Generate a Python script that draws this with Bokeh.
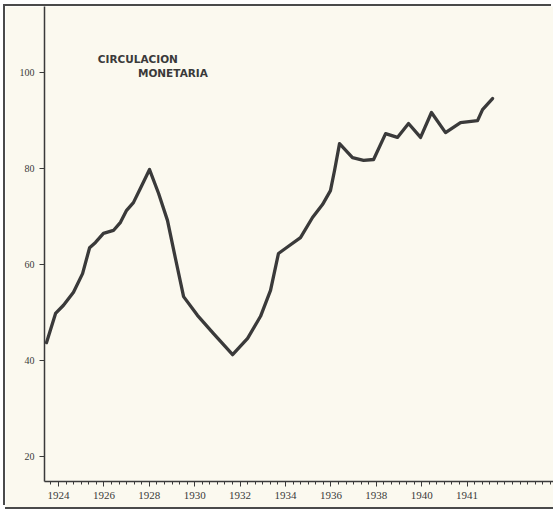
from bokeh.plotting import figure
from bokeh.models import FixedTicker, Label, Range1d
from bokeh.embed import file_html
from bokeh.resources import INLINE

# --- data (year, index value) ---
years = [1923.47, 1923.87, 1924.22, 1924.66, 1925.06, 1925.37, 1925.63, 1925.98,
         1926.42, 1926.73, 1927.00, 1927.30, 1927.61, 1928.01, 1928.41, 1928.80,
         1929.15, 1929.51, 1930.12, 1930.83, 1931.67, 1932.33, 1932.90, 1933.34,
         1933.69, 1934.13, 1934.66, 1935.19, 1935.63, 1935.98, 1936.16, 1936.38,
         1936.95, 1937.44, 1937.88, 1938.41, 1938.93, 1939.42, 1939.95, 1940.43,
         1941.05, 1941.71, 1942.46, 1942.68, 1943.12]
circulacion = [43.7, 49.8, 51.5, 54.2, 58.1, 63.5, 64.6, 66.5,
               67.1, 68.8, 71.3, 72.9, 75.9, 79.8, 74.8, 69.2,
               61.3, 53.3, 49.4, 45.6, 41.2, 44.6, 49.2, 54.6,
               62.3, 63.8, 65.6, 69.8, 72.5, 75.4, 79.6, 85.2,
               82.3, 81.7, 81.9, 87.3, 86.5, 89.4, 86.5, 91.7,
               87.5, 89.6, 90.0, 92.3, 94.6]

x_tick_years = [1924, 1926, 1928, 1930, 1932, 1934, 1936, 1938, 1940, 1942]
x_tick_labels = ["1924", "1926", "1928", "1930", "1932", "1934", "1936", "1938", "1940", "1941"]
y_ticks = [20, 40, 60, 80, 100]
title_lines = ["CIRCULACION", "MONETARIA"]

BG = "#fbf9ef"
INK = "#3a3a3a"

p = figure(width=548, height=501, output_backend="svg", toolbar_location=None,
           x_range=Range1d(1923.383, 1945.806), y_range=Range1d(14.745, 113.806),
           min_border_left=39, min_border_right=0, min_border_top=0, min_border_bottom=26,
           background_fill_color=BG, border_fill_color=BG)
p.outline_line_color = None
p.xgrid.visible = False
p.ygrid.visible = False
p.styles = {"margin": "6px 0px 0px 5px",
            "box-shadow": "-2px -2px 0 0 #4a4a4a, 0 2px 0 0 #4a4a4a"}

p.line(years, circulacion, line_color=INK, line_width=3.3, line_join="round", line_cap="round")

minor = [1923 + k / 3 for k in range(1, 70)]
xa = p.xaxis[0]
xa.ticker = FixedTicker(ticks=x_tick_years, minor_ticks=minor)
xa.major_label_overrides = {t: l for t, l in zip(x_tick_years, x_tick_labels)}
xa.axis_line_color = INK
xa.axis_line_width = 1.5
xa.major_tick_line_color = INK
xa.minor_tick_line_color = INK
xa.major_tick_in = 0
xa.major_tick_out = 5
xa.minor_tick_in = 0
xa.minor_tick_out = 3
xa.major_label_standoff = 5
xa.major_label_text_font = "Liberation Serif"
xa.major_label_text_font_size = "11px"
xa.major_label_text_color = INK

ya = p.yaxis[0]
ya.ticker = FixedTicker(ticks=y_ticks, minor_ticks=[])
ya.axis_line_color = INK
ya.axis_line_width = 1.5
ya.major_tick_line_color = INK
ya.major_tick_in = 0
ya.major_tick_out = 5
ya.major_label_standoff = 5
ya.major_label_text_font = "Liberation Serif"
ya.major_label_text_font_size = "10px"
ya.major_label_text_color = INK

p.add_layout(Label(x=1925.73, y=102.9, text=title_lines[0], text_font="DejaVu Sans",
                   text_font_style="bold", text_font_size="10.5px", text_color=INK,
                   text_baseline="middle", text_align="left"))
p.add_layout(Label(x=1927.50, y=100.0, text=title_lines[1], text_font="DejaVu Sans",
                   text_font_style="bold", text_font_size="10.5px", text_color=INK,
                   text_baseline="middle", text_align="left"))

open("out.html", "w").write(file_html(p, INLINE))
